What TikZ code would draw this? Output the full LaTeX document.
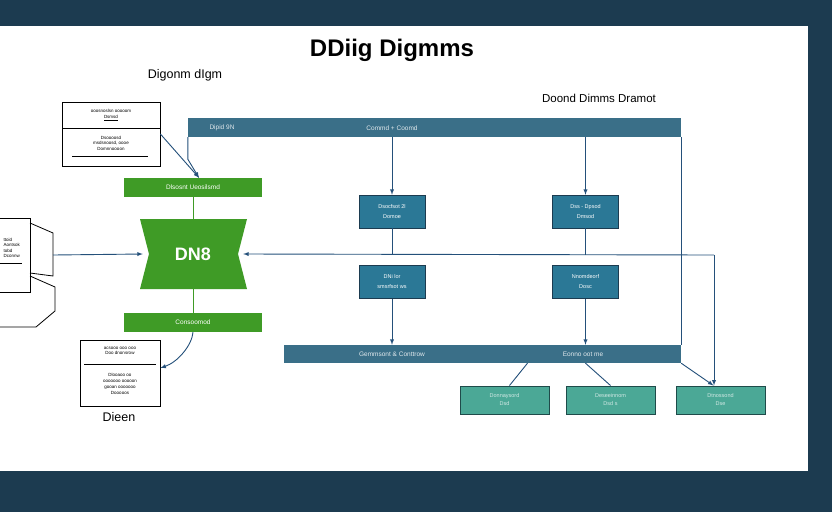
\documentclass[tikz,border=0pt]{standalone}
\usepackage{fontspec}
\setmainfont{Liberation Sans}
\usetikzlibrary{positioning}
\definecolor{navy}{HTML}{1C3B50}
\definecolor{barblue}{HTML}{3A6F88}
\definecolor{boxblue}{HTML}{2B7896}
\definecolor{boxteal}{HTML}{4BA896}
\definecolor{darkteal}{HTML}{1F4B4A}
\definecolor{dgreen}{HTML}{3F9B26}
\definecolor{lineblue}{HTML}{24507A}
\begin{document}
\begin{tikzpicture}[x=1pt,y=-1pt,
  bar/.style={fill=barblue,minimum height=19pt,inner sep=0pt},
  bluebox/.style={fill=boxblue,draw=navy,minimum width=66pt,minimum height=33pt,inner sep=0pt,align=center,text=white,font=\fontsize{5.5}{10}\selectfont},
  tealbox/.style={fill=boxteal,draw=darkteal,line width=1pt,minimum width=89pt,minimum height=28pt,inner sep=0pt,align=center,text=white!75!boxteal,font=\fontsize{5.5}{8}\selectfont},
  greenbox/.style={fill=dgreen,minimum width=138pt,minimum height=19pt,inner sep=0pt,text=white,font=\fontsize{6.5}{8}\selectfont},
  docbox/.style={draw,thick,fill=white,inner sep=0pt},
  bartext/.style={text=white!85!barblue,font=\fontsize{6.5}{8}\selectfont},
  tinytext/.style={font=\fontsize{4.5}{5.5}\selectfont,align=center},
  link/.style={lineblue,line width=0.9pt},
  arr/.style={lineblue,line width=0.9pt,-latex}]
\useasboundingbox (0,0) rectangle (832,512);
\fill[navy] (0,0) rectangle (832,512);
\fill[white] (0,26) rectangle (808,471);
% titles
\node (title) at (392,50) {\fontsize{24}{28}\selectfont\bfseries DDiig Digmms};
\node (subl) at (185,75) {\fontsize{12.5}{15}\selectfont Digonm dIgm};
\node (subr) at (599,98) {\fontsize{11.5}{14}\selectfont Doond Dimms Dramot};
% bars
\node[bar,minimum width=493pt] (topbar) at (434.5,127.5) {};
\node[bartext] (tb1) at (222,128) {Dipid 9N};
\node[bartext] (tb2) at (392,128) {Commd + Coomd};
\node[bar,minimum width=397pt,minimum height=18pt] (botbar) at (482.5,354) {};
\node[bartext] (bb1) at (392,354) {Gemmsont \& Conttrow};
\node[bartext] (bb2) at (583,354) {Eonno oot me};
% blue boxes
\node[bluebox] (b1) at (392,211.5) {Dsocfsot 2l\\Domoe};
\node[bluebox] (b2) at (585.5,211.5) {Dss - Dpsod\\Dmsod};
\node[bluebox] (b3) at (392,282) {DNi lor\\smsrfsot ws};
\node[bluebox] (b4) at (585.5,282) {Nnomdeorf\\Dosc};
% teal boxes
\node[tealbox] (t1) at (504.5,400) {Donnaysord\\Dsd};
\node[tealbox] (t2) at (610.5,400) {Deseeinnom\\Dsd s};
\node[tealbox] (t3) at (720.5,400) {Dtnossond\\Dse};
% green part
\node[greenbox] (g1) at (193,187.5) {Dlsosnt Ueosilsmd};
\node[greenbox] (g2) at (193,322.5) {Consoomod};
\fill[dgreen] (140,219) -- (247,219) -- (238,254) -- (247,289) -- (140,289) -- (149,254) -- cycle;
\node[minimum width=100pt,minimum height=70pt,inner sep=0pt,text=white] (dn) at (193,254) {\fontsize{18}{22}\selectfont\bfseries DN8};
% documents
\node[docbox,minimum width=98pt,minimum height=64pt] (docA) at (111,134) {};
\draw[thick] (62,128) -- (160,128);
\node[tinytext] (docAt) at (111,115) {ooosnoslsn ooooom\\\underline{Dsmsd}};
\node[tinytext] (docAb) at (111,143) {Dsoooosd\\msdsnoosd, oooe\\Domnnoooon};
\draw[thick] (72,156) -- (148,156);
\node[docbox,minimum width=80pt,minimum height=66pt] (docB) at (120,373) {};
\draw[thick] (84,364) -- (156,364);
\node[tinytext] (docBt) at (120,351) {acsooo ooo ooo\\Doo dnonsrow};
\node[tinytext] (docBb) at (120,384) {Dlooaoo oo\\ooooooo ooooon\\[1pt]gooan ooooooo\\Dooooos};
\node (dieen) at (119,417) {\fontsize{12.5}{15}\selectfont Dieen};
% left device
\fill[white] (0,218) rectangle (30,292);
\draw[thick] (0,218) -- (30,218) -- (30,292) -- (0,292);
\draw[thick] (30,223) -- (53,233) -- (53,276) -- (30,273);
\draw[thick] (30,276) -- (55,287) -- (55,311) -- (36,327) -- (0,327);
\node[tinytext,align=left,anchor=west] (devt) at (0,248) {ttoid\\Aontsok\\tobd\\Dconnw};
\draw[thick] (0,263) -- (22,263);
\coordinate (dev) at (53,255);
% connectors
\coordinate (hr) at (714,255);
\draw[arr] (dev) -- (dn.west);
\draw[arr] (hr) -- (dn.east);
\draw[dgreen,line width=1pt] (g1.south) -- (dn.north);
\draw[dgreen,line width=1pt] (dn.south) -- (g2.north);
\draw[arr] (docA.east) -- ([xshift=6pt]g1.north);
\draw[arr] (topbar.south west) -- ++(0,22) -- ([xshift=6pt]g1.north);
\draw[arr] (g2.south) .. controls (192,345) and (178,362) .. ([yshift=5pt]docB.east);
\draw[arr] (topbar.south -| b1.north) -- (b1.north);
\draw[arr] (topbar.south -| b2.north) -- (b2.north);
\draw[link] (b1.south) -- (b1.south |- hr);
\draw[link] (b2.south) -- (b2.south |- hr);
\draw[arr] (b3.south) -- (b3.south |- botbar.north);
\draw[arr] (b4.south) -- (b4.south |- botbar.north);
\draw[link] (topbar.south east) -- (botbar.north east);
\draw[arr] (botbar.south east) -- ([xshift=-7pt]t3.north);
\draw[arr] (hr) -- (hr |- t3.north);
\draw[link] ([xshift=45pt]botbar.south) -- ([xshift=5pt]t1.north);
\draw[link] ([xshift=103pt]botbar.south) -- (t2.north);
\end{tikzpicture}
\end{document}
